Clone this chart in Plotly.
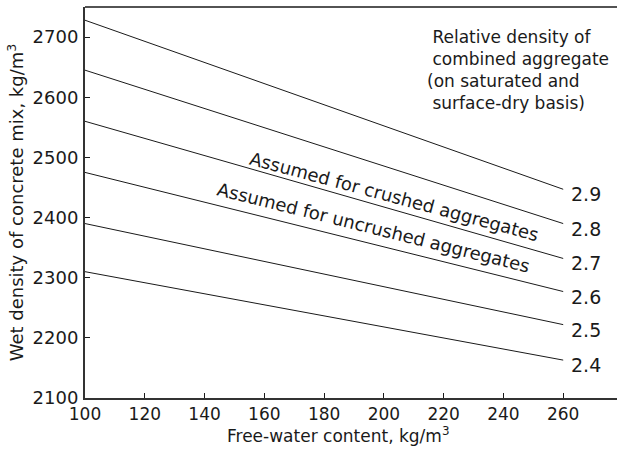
import plotly.graph_objects as go

# Relative density of combined aggregate (one line each)
rel_density = ["2.4", "2.5", "2.6", "2.7", "2.8", "2.9"]
# Free-water content at the two ends of each line, kg/m3
water = [100, 260]
# Wet density of the concrete mix at each end, kg/m3
density_at_100 = [2310, 2390, 2475, 2560, 2645, 2728]
density_at_260 = [2163, 2222, 2277, 2332, 2390, 2447]

x_ticks = [100, 120, 140, 160, 180, 200, 220, 240, 260]
y_ticks = [2100, 2200, 2300, 2400, 2500, 2600, 2700]

FONT = "DejaVu Sans"
INK = "#1a1a1a"

fig = go.Figure()

for rd, d0, d1 in zip(rel_density, density_at_100, density_at_260):
    fig.add_trace(go.Scatter(
        x=water, y=[d0, d1], mode="lines",
        line=dict(color=INK, width=1),
        name=rd, showlegend=False, hoverinfo="skip",
    ))
    fig.add_annotation(
        x=water[-1], y=d1, text=rd, showarrow=False,
        xanchor="left", yanchor="middle", xshift=6, yshift=-5,
        font=dict(family=FONT, size=19, color=INK),
    )

# Rotated notes sitting along the 2.7 and 2.6 lines
fig.add_annotation(
    x=203.5, y=2435, text="Assumed for crushed aggregates", showarrow=False,
    textangle=15, font=dict(family=FONT, size=18, color=INK),
)
fig.add_annotation(
    x=196.5, y=2384, text="Assumed for uncrushed aggregates", showarrow=False,
    textangle=14, font=dict(family=FONT, size=18, color=INK),
)

# Note at the upper right describing the line labels
fig.add_annotation(
    xref="paper", yref="paper", x=0.64, y=0.955,
    xanchor="left", yanchor="top", align="left", showarrow=False,
    text=("&nbsp;Relative density of<br>&nbsp;combined aggregate<br>"
          "(on saturated and<br>&nbsp;surface-dry basis)"),
    font=dict(family=FONT, size=17, color=INK),
)

# x-axis title, placed as text below the axis
fig.add_annotation(
    xref="paper", yref="paper", x=0.476, y=-0.094,
    xanchor="center", yanchor="middle", showarrow=False,
    text="Free-water content, kg/m<sup>3</sup>",
    font=dict(family=FONT, size=17, color=INK),
)

# Thin frame line along the top of the plotting area
fig.add_shape(
    type="line", xref="paper", yref="paper", x0=0, x1=1, y0=1, y1=1,
    line=dict(color=INK, width=1.5),
)

fig.update_layout(
    width=617, height=454,
    margin=dict(l=85, r=0, t=7, b=56),
    paper_bgcolor="white", plot_bgcolor="white",
    font=dict(family=FONT, color=INK),
)
fig.update_xaxes(
    range=[100, 278], tickvals=x_ticks, ticktext=[str(v) for v in x_ticks],
    showgrid=False, zeroline=False,
    showline=True, linecolor="#333333", linewidth=2,
    ticks="inside", ticklen=5, tickcolor=INK, tickwidth=1,
    tickfont=dict(family=FONT, size=17, color=INK),
)
fig.update_yaxes(
    range=[2100, 2750], tickvals=y_ticks, ticktext=[str(v) for v in y_ticks],
    showgrid=False, zeroline=False,
    showline=True, linecolor="#333333", linewidth=2,
    ticks="inside", ticklen=5, tickcolor=INK, tickwidth=1,
    tickfont=dict(family=FONT, size=18, color=INK),
    ticklabelstandoff=1,
    title=dict(text="Wet density of concrete mix, kg/m<sup>3</sup>",
               font=dict(family=FONT, size=18, color=INK), standoff=4),
)

fig.write_html("out.html")
